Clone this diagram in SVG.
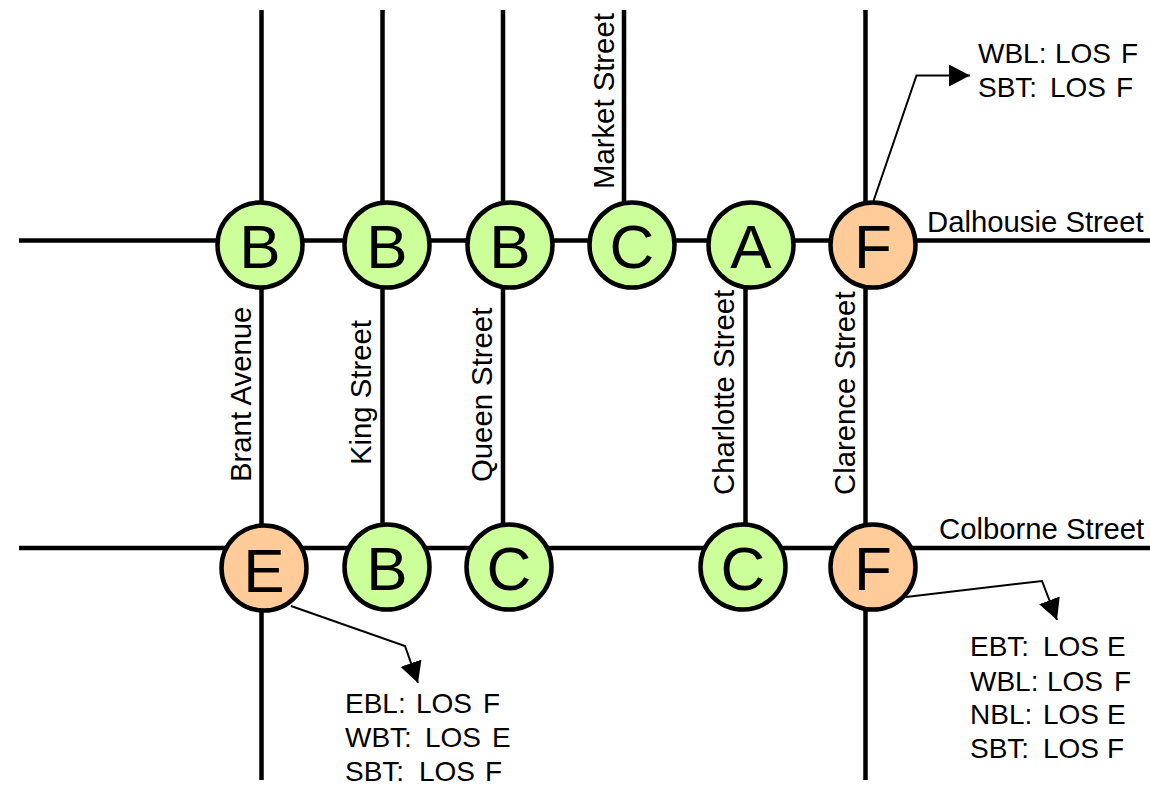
<svg xmlns="http://www.w3.org/2000/svg" width="1150" height="785" viewBox="0 0 1150 785">
<style>
.road{stroke:#000;stroke-width:4.5;fill:none}
.lead{stroke:#000;stroke-width:2;fill:none}
.g{fill:#ccff99}.o{fill:#ffcc99}
circle{stroke:#000;stroke-width:4.5}
text{font-family:"Liberation Sans",Arial,sans-serif;fill:#000}
.n{font-size:62px;text-anchor:middle}
.s{font-size:29.300px}
.l{font-size:28px}
</style>
<defs><marker id="ah" markerUnits="userSpaceOnUse" markerWidth="22" markerHeight="22" refX="21" refY="11" orient="auto"><path d="M0 0L21 11L0 22Z" fill="#000"/></marker></defs>
<rect width="1150" height="785" fill="#fff"/>
<g id="connectors">
<path class="road" d="M19 240.500H1150M19 548H1150M261.500 10V780M382.500 10V548M503 10V548M624 10V240M745.500 240V548M865.500 10V780"/>
<path class="lead" d="M873.500 201L916.500 75.500H970" marker-end="url(#ah)"/>
<path class="lead" d="M906 597L1042 581L1057 620" marker-end="url(#ah)"/>
<path class="lead" d="M291 606L405 646L418 683" marker-end="url(#ah)"/>
</g>
<g id="node-b1"><circle class="g" cx="260" cy="245" r="42.500"/><text class="n" x="260" y="268">B</text></g>
<g id="node-b2"><circle class="g" cx="387" cy="245" r="42.500"/><text class="n" x="387" y="268">B</text></g>
<g id="node-b3"><circle class="g" cx="510" cy="245" r="42.500"/><text class="n" x="510" y="268">B</text></g>
<g id="node-c1"><circle class="g" cx="632" cy="245" r="42.500"/><text class="n" x="632" y="268">C</text></g>
<g id="node-a1"><circle class="g" cx="751" cy="245" r="42.500"/><text class="n" x="751" y="268">A</text></g>
<g id="node-f1"><circle class="o" cx="873" cy="245" r="42.500"/><text class="n" x="873" y="268">F</text></g>
<g id="node-e2"><circle class="o" cx="264" cy="568" r="42.500"/><text class="n" x="264" y="592">E</text></g>
<g id="node-b4"><circle class="g" cx="387" cy="567" r="42.500"/><text class="n" x="387" y="590">B</text></g>
<g id="node-c2"><circle class="g" cx="509" cy="567" r="42.500"/><text class="n" x="509" y="590">C</text></g>
<g id="node-c3"><circle class="g" cx="743" cy="567" r="42.500"/><text class="n" x="743" y="590">C</text></g>
<g id="node-f2"><circle class="o" cx="873" cy="567" r="42.500"/><text class="n" x="873" y="590">F</text></g>
<g id="labels">
<text class="s" x="927" y="232">Dalhousie Street</text>
<text class="s" x="939" y="539">Colborne Street</text>
<text class="s" transform="translate(251 482) rotate(-90)">Brant Avenue</text>
<text class="s" transform="translate(371 465) rotate(-90)">King Street</text>
<text class="s" transform="translate(492 482) rotate(-90)">Queen Street</text>
<text class="s" transform="translate(614 189) rotate(-90)">Market Street</text>
<text class="s" transform="translate(734 495) rotate(-90)">Charlotte Street</text>
<text class="s" transform="translate(855 495) rotate(-90)">Clarence Street</text>
<text class="l" x="978" y="63">WBL: <tspan x="1055">LOS</tspan> <tspan x="1121">F</tspan></text>
<text class="l" x="978" y="97">SBT: <tspan x="1050">LOS</tspan> <tspan x="1116">F</tspan></text>
<text class="l" x="970" y="656">EBT: <tspan x="1043">LOS</tspan> <tspan x="1107">E</tspan></text>
<text class="l" x="970" y="691">WBL: <tspan x="1047">LOS</tspan> <tspan x="1114">F</tspan></text>
<text class="l" x="970" y="724">NBL: <tspan x="1043">LOS</tspan> <tspan x="1107">E</tspan></text>
<text class="l" x="970" y="758">SBT: <tspan x="1043">LOS</tspan> <tspan x="1107">F</tspan></text>
<text class="l" x="345" y="713">EBL: <tspan x="416">LOS</tspan> <tspan x="483">F</tspan></text>
<text class="l" x="345" y="747">WBT: <tspan x="425">LOS</tspan> <tspan x="492">E</tspan></text>
<text class="l" x="345" y="781">SBT: <tspan x="419">LOS</tspan> <tspan x="485">F</tspan></text>
</g>
</svg>
